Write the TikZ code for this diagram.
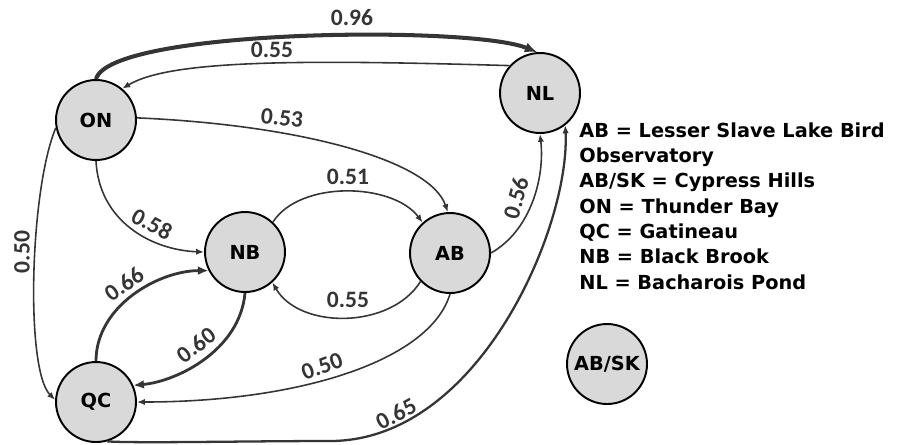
\documentclass[tikz,border=0pt]{standalone}
\usepackage{fontspec}
\setmainfont{DejaVu Sans}
\newfontfamily\numfont{Carlito}
\usepackage{xcolor}
\usepackage{tikz}
\usetikzlibrary{arrows.meta,positioning}

\definecolor{sitefill}{HTML}{D9D9D9}
\definecolor{edgegray}{HTML}{353535}

\begin{document}
\begin{tikzpicture}[x=0.02cm, y=-0.02cm,
            site/.style={draw=black, fill=sitefill, circle, line width=1.1pt, minimum size=1.6cm,
                 inner sep=0pt, font=\fontsize{11}{13}\selectfont\bfseries},
            edge/.style={draw=edgegray, line width=0.9pt, -{Latex[length=4.5pt, width=3.6pt]}},
            heavy/.style={edge, line width=1.6pt, -{Latex[length=6pt, width=5pt]}},
            heaviest/.style={edge, line width=2.3pt, -{Latex[length=7pt, width=6pt]}},
            wt/.style={text=edgegray, inner sep=1pt, font=\fontsize{13.4}{15}\selectfont\numfont\bfseries},
            legend/.style={align=left, inner sep=0pt, font=\fontsize{11}{14.45}\selectfont\bfseries}
            ]
            \useasboundingbox (0,0) rectangle (915,444);

            % Sites at manual coordinates
            \node[site] (ON) at (96,120) {ON};
            \node[site] (NL) at (540,93) {NL};
            \node[site] (NB) at (245,252) {NB};
            \node[site] (AB) at (450,253) {AB};
            \node[site] (QC) at (96,402) {QC};
            \node[site] (ABSK) at (607,364) {AB/SK};
            \coordinate (bottom) at (330,441);

            % Key
            \node[legend, anchor=north west] (key) at (579,122) {AB = Lesser Slave Lake Bird\\Observatory\\AB/SK = Cypress Hills\\ON = Thunder Bay\\QC = Gatineau\\NB = Black Brook\\NL = Bacharois Pond};

            % Arrows
            \draw[heaviest] (ON.90) .. controls +(14,-50) and +(-67,-27) .. (NL.94);
            \draw[edge] (NL.138) .. controls +(-208,-6) and +(48,-29) .. (ON.50);
            \draw[edge] (ON.3) .. controls +(163,7) and +(-18,-52) .. (AB.93);
            \draw[edge] (NB.47) .. controls +(27,-42) and +(-30,-40) .. (AB.132);
            \draw[edge] (AB.224) .. controls +(-30,48) and +(27,47) .. (NB.312);
            \draw[edge] (ON.270) .. controls +(3,60) and +(-53,-2) .. (NB.180);
            \draw[edge] (ON.191) .. controls +(-26,62) and +(-30,-30) .. (QC.177);
            \draw[heavy] (QC.90) .. controls +(0,-55) and +(-50,0) .. (NB.207);
            \draw[heavy] (NB.270) .. controls +(-5,57) and +(44,-4) .. (QC.24);
            \draw[edge] (AB.270) .. controls +(-20,67) and +(162,0) .. (QC.0);
            \draw[edge, line width=1.3pt] (QC.286) .. controls +(30,2) and +(-80,0) .. (bottom)
                  .. controls +(150,0) and +(5,100) .. (NL.308);
            \draw[edge] (AB.0) .. controls +(39,-22) and +(5,45) .. (NL.270);

            % Weights
            \node[wt] (w96) at (352,18) {0.96};
            \node[wt] (w55a) at (272,50) {0.55};
            \node[wt, rotate=-5] (w53) at (282,118) {0.53};
            \node[wt] (w51) at (348,177) {0.51};
            \node[wt] (w55b) at (348,300) {0.55};
            \node[wt, rotate=-28] (w58) at (152,224) {0.58};
            \node[wt, rotate=90] (w50a) at (22,252) {0.50};
            \node[wt, rotate=36] (w66) at (124,284) {0.66};
            \node[wt, rotate=37] (w60) at (196,345) {0.60};
            \node[wt, rotate=20] (w50b) at (322,366) {0.50};
            \node[wt, rotate=28] (w65) at (396,414) {0.65};
            \node[wt, rotate=75] (w56) at (516,198) {0.56};
        \end{tikzpicture}
\end{document}
